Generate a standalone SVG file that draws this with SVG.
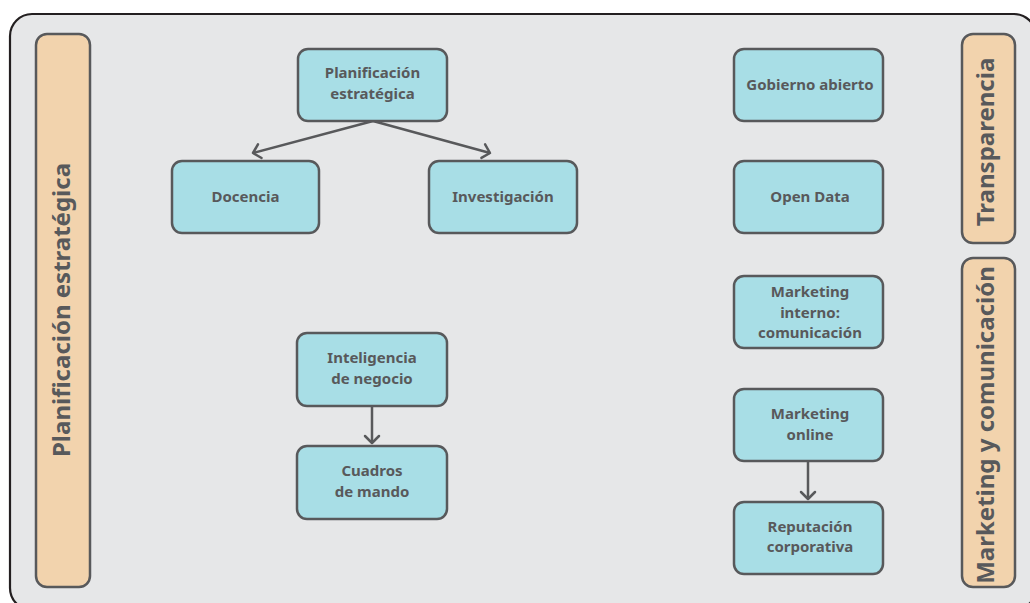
<svg xmlns="http://www.w3.org/2000/svg" width="1030" height="603" viewBox="0 0 1030 603">
  <style>
    .frame { fill: #e6e7e8; stroke: #231f20; stroke-width: 2.2; }
    .band { fill: #f2d3ad; stroke: #58595b; stroke-width: 2.5; }
    .node { fill: #a8dee6; stroke: #58595b; stroke-width: 2.5; }
    .label { font-family: "Noto Sans", "Liberation Sans", sans-serif; font-weight: 700; fill: #58595b; text-anchor: middle; }
    .t { font-size: 15px; }
    .b { font-size: 24px; }
    .edge { fill: none; stroke: #58595b; stroke-width: 2.5; }
  </style>
  <defs>
    <marker id="chev" markerUnits="userSpaceOnUse" markerWidth="20" markerHeight="20" viewBox="-10 -10 20 20" refX="0" refY="0" orient="auto">
      <path d="M-7,-7 L0,0 L-7,7" fill="none" stroke="#58595b" stroke-width="2.5" stroke-linecap="round" stroke-linejoin="round"/>
    </marker>
  </defs>

  <!-- outer panel -->
  <rect class="frame" x="10" y="14" width="1026" height="596" rx="22"/>

  <!-- side bands -->
  <g id="band-planificacion">
    <rect class="band" x="36" y="34" width="54" height="553" rx="11"/>
    <text class="label b" transform="translate(70,310) rotate(-90)">Planificación estratégica</text>
  </g>
  <g id="band-transparencia">
    <rect class="band" x="962" y="34" width="53" height="209" rx="11"/>
    <text class="label b" transform="translate(994,142) rotate(-90)">Transparencia</text>
  </g>
  <g id="band-marketing">
    <rect class="band" x="962" y="258" width="53" height="329" rx="11"/>
    <text class="label b" transform="translate(994,425) rotate(-90)">Marketing y comunicación</text>
  </g>

  <!-- connectors -->
  <g id="connectors">
    <path class="edge" d="M373,121 L253,153" marker-end="url(#chev)"/>
    <path class="edge" d="M373,121 L490,153" marker-end="url(#chev)"/>
    <path class="edge" d="M372,406 L372,443" marker-end="url(#chev)"/>
    <path class="edge" d="M808,461 L808,499" marker-end="url(#chev)"/>
  </g>

  <!-- nodes -->
  <g id="n-planificacion">
    <rect class="node" x="298" y="49" width="149" height="72" rx="10"/>
    <text class="label t" x="372.5" y="78">Planificación</text>
    <text class="label t" x="372.5" y="99">estratégica</text>
  </g>
  <g id="n-docencia">
    <rect class="node" x="172" y="161" width="147" height="72" rx="10"/>
    <text class="label t" x="245.5" y="202">Docencia</text>
  </g>
  <g id="n-investigacion">
    <rect class="node" x="429" y="161" width="148" height="72" rx="10"/>
    <text class="label t" x="503" y="202">Investigación</text>
  </g>
  <g id="n-inteligencia">
    <rect class="node" x="297" y="333" width="150" height="73" rx="10"/>
    <text class="label t" x="372" y="363">Inteligencia</text>
    <text class="label t" x="372" y="384">de negocio</text>
  </g>
  <g id="n-cuadros">
    <rect class="node" x="297" y="446" width="150" height="73" rx="10"/>
    <text class="label t" x="372" y="476">Cuadros</text>
    <text class="label t" x="372" y="497">de mando</text>
  </g>
  <g id="n-gobierno">
    <rect class="node" x="734" y="49" width="149" height="72" rx="10"/>
    <text class="label t" x="810" y="90">Gobierno abierto</text>
  </g>
  <g id="n-opendata">
    <rect class="node" x="734" y="161" width="149" height="72" rx="10"/>
    <text class="label t" x="810" y="202">Open Data</text>
  </g>
  <g id="n-mkt-interno">
    <rect class="node" x="734" y="276" width="149" height="72" rx="10"/>
    <text class="label t" x="810" y="297">Marketing</text>
    <text class="label t" x="810" y="318">interno:</text>
    <text class="label t" x="810" y="338">comunicación</text>
  </g>
  <g id="n-mkt-online">
    <rect class="node" x="734" y="389" width="149" height="72" rx="10"/>
    <text class="label t" x="810" y="419">Marketing</text>
    <text class="label t" x="810" y="440">online</text>
  </g>
  <g id="n-reputacion">
    <rect class="node" x="734" y="502" width="149" height="72" rx="10"/>
    <text class="label t" x="810" y="532">Reputación</text>
    <text class="label t" x="810" y="552">corporativa</text>
  </g>
</svg>
